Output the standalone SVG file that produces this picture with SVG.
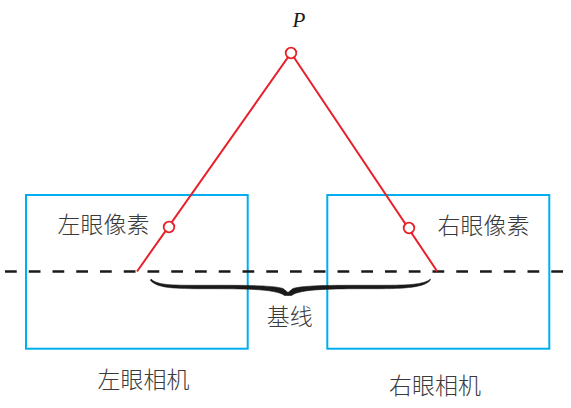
<svg xmlns="http://www.w3.org/2000/svg" width="571" height="408" viewBox="0 0 571 408">
<style>
.box{fill:none;stroke:#00aeef;stroke-width:2}
.ray{fill:none;stroke:#e8202a;stroke-width:2}
.pt{fill:#fff;stroke:#e8202a;stroke-width:1.8}
.lbl{font-family:"Noto Sans CJK SC","Noto Sans",sans-serif;font-weight:300;font-size:23px;fill:#3a3a3a;text-anchor:middle}
.base{fill:none;stroke:#1a1a1a;stroke-width:2.3;stroke-dasharray:11.75 12}
.brace{fill:#1a1a1a;stroke:#1a1a1a;stroke-width:0.6;stroke-linejoin:round}
</style>
<rect width="571" height="408" fill="#fff"/>
<g id="left-camera">
<rect class="box" x="26" y="195" width="221.7" height="153.7"/>
<text class="lbl" x="143.5" y="388">左眼相机</text>
</g>
<g id="right-camera">
<rect class="box" x="327.3" y="195" width="222" height="153.7"/>
<text class="lbl" x="435" y="394">右眼相机</text>
</g>
<g id="connectors">
<line class="base" x1="5" y1="271.5" x2="566" y2="271.5"/>
<polyline class="ray" points="137,271.5 291,53 437.3,271.5"/>
<path class="brace" d="M151,279 C157,285 170,285.3 200,285.3 C240,285.3 272,285 283,288.5 L288,292.5 L293,288.5 C305,285 336,285.3 376,285.3 C406,285.3 424,285 430.5,279 L430,280.5 C424,287.3 406,288.7 376,288.7 C336,288.7 300,288.5 291.5,295.5 L284.5,295.5 C276,288.5 240,288.7 200,288.7 C170,288.7 157,287.3 150.5,280.5 Z"/>
</g>
<g id="P">
<circle class="pt" cx="291" cy="53" r="5.3"/>
<text x="299" y="27" font-family="Liberation Serif,serif" font-style="italic" font-size="21" fill="#1a1a1a" text-anchor="middle">P</text>
</g>
<g id="left-pixel">
<circle class="pt" cx="169" cy="227" r="5.3"/>
<text class="lbl" x="103.5" y="233">左眼像素</text>
</g>
<g id="right-pixel">
<circle class="pt" cx="409" cy="228" r="5.3"/>
<text class="lbl" x="483.5" y="234">右眼像素</text>
</g>
<g id="baseline-label">
<text class="lbl" x="289.7" y="325">基线</text>
</g>
</svg>
